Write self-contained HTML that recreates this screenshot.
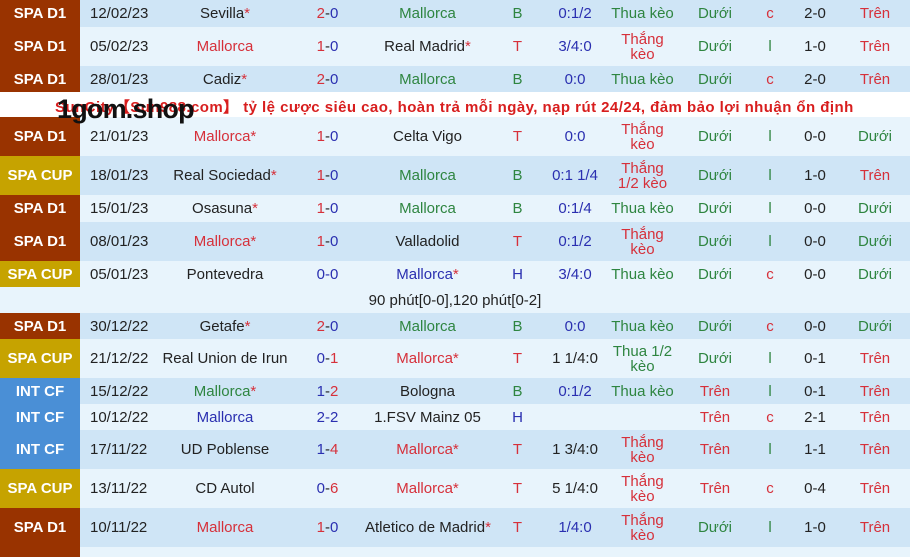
<!DOCTYPE html>
<html><head><meta charset="utf-8"><style>
*{margin:0;padding:0;box-sizing:border-box}
body{width:910px;height:551px;overflow:hidden;background:#e8f4fc;font-family:"Liberation Sans",Arial,sans-serif;font-size:15px;color:#222;position:relative}
.r{position:absolute;left:0;width:910px;display:flex;align-items:center}
.d{background:#cfe5f6}.l{background:#e8f4fc}
.r>div{text-align:center;line-height:15px;flex:none;white-space:nowrap}
.lg{width:80px;height:100%;display:flex;align-items:center;justify-content:center;color:#fff;font-weight:bold;font-size:15px}
.b1{background:#993300}.b2{background:#c6a300}.b3{background:#4a8fd6}
.c1{width:80px;text-align:left!important;padding-left:10px}
.c2{width:130px}.c3{width:75px}.c4{width:125px}.c5{width:55px}.c6{width:60px}.c7{width:75px}.c8{width:70px}.c9{width:40px}.c10{width:50px}.c11{width:70px}
.g{color:#2e8540}.rd{color:#d6303a}.bl{color:#2a2fb0}.k{color:#222}
.s{color:#d6303a}
#ban{position:absolute;left:0;top:92px;width:910px;height:25px;background:#fff}
#ban span{position:absolute;left:55px;top:4px;color:#d81e1e;font-weight:bold;font-size:15px;font-family:"Liberation Sans",sans-serif;white-space:nowrap;letter-spacing:0.45px}
#gom{position:absolute;z-index:5;left:57px;top:94px;font-weight:bold;font-size:27px;color:#111;font-family:"Liberation Sans",sans-serif;letter-spacing:-0.8px}
</style></head><body>

<div class="r d" style="top:0;height:27px"><div class="lg b1">SPA D1</div><div class="c1">12/02/23</div><div class="c2">Sevilla<span class="s">*</span></div><div class="c3"><span class="rd">2</span>-<span class="bl">0</span></div><div class="c4 g">Mallorca</div><div class="c5 g">B</div><div class="c6 bl">0:1/2</div><div class="c7 g">Thua kèo</div><div class="c8 g">Dưới</div><div class="c9 rd">c</div><div class="c10">2-0</div><div class="c11 rd">Trên</div></div>

<div class="r l" style="top:27px;height:39px"><div class="lg b1">SPA D1</div><div class="c1">05/02/23</div><div class="c2 rd">Mallorca</div><div class="c3"><span class="rd">1</span>-<span class="bl">0</span></div><div class="c4">Real Madrid<span class="s">*</span></div><div class="c5 rd">T</div><div class="c6 bl">3/4:0</div><div class="c7 rd">Thắng<br>kèo</div><div class="c8 g">Dưới</div><div class="c9 g">l</div><div class="c10">1-0</div><div class="c11 rd">Trên</div></div>

<div class="r d" style="top:66px;height:27px"><div class="lg b1">SPA D1</div><div class="c1">28/01/23</div><div class="c2">Cadiz<span class="s">*</span></div><div class="c3"><span class="rd">2</span>-<span class="bl">0</span></div><div class="c4 g">Mallorca</div><div class="c5 g">B</div><div class="c6 bl">0:0</div><div class="c7 g">Thua kèo</div><div class="c8 g">Dưới</div><div class="c9 rd">c</div><div class="c10">2-0</div><div class="c11 rd">Trên</div></div>

<div id="ban"><span>SunCity【Sun988.com】 tỷ lệ cược siêu cao, hoàn trả mỗi ngày, nạp rút 24/24, đảm bảo lợi nhuận ổn định</span></div>
<div id="gom">1gom.shop</div>

<div class="r l" style="top:117px;height:39px"><div class="lg b1">SPA D1</div><div class="c1">21/01/23</div><div class="c2 rd">Mallorca*</div><div class="c3"><span class="rd">1</span>-<span class="bl">0</span></div><div class="c4">Celta Vigo</div><div class="c5 rd">T</div><div class="c6 bl">0:0</div><div class="c7 rd">Thắng<br>kèo</div><div class="c8 g">Dưới</div><div class="c9 g">l</div><div class="c10">0-0</div><div class="c11 g">Dưới</div></div>

<div class="r d" style="top:156px;height:39px"><div class="lg b2">SPA CUP</div><div class="c1">18/01/23</div><div class="c2">Real Sociedad<span class="s">*</span></div><div class="c3"><span class="rd">1</span>-<span class="bl">0</span></div><div class="c4 g">Mallorca</div><div class="c5 g">B</div><div class="c6 bl">0:1 1/4</div><div class="c7 rd">Thắng<br>1/2 kèo</div><div class="c8 g">Dưới</div><div class="c9 g">l</div><div class="c10">1-0</div><div class="c11 rd">Trên</div></div>

<div class="r l" style="top:195px;height:27px"><div class="lg b1">SPA D1</div><div class="c1">15/01/23</div><div class="c2">Osasuna<span class="s">*</span></div><div class="c3"><span class="rd">1</span>-<span class="bl">0</span></div><div class="c4 g">Mallorca</div><div class="c5 g">B</div><div class="c6 bl">0:1/4</div><div class="c7 g">Thua kèo</div><div class="c8 g">Dưới</div><div class="c9 g">l</div><div class="c10">0-0</div><div class="c11 g">Dưới</div></div>

<div class="r d" style="top:222px;height:39px"><div class="lg b1">SPA D1</div><div class="c1">08/01/23</div><div class="c2 rd">Mallorca*</div><div class="c3"><span class="rd">1</span>-<span class="bl">0</span></div><div class="c4">Valladolid</div><div class="c5 rd">T</div><div class="c6 bl">0:1/2</div><div class="c7 rd">Thắng<br>kèo</div><div class="c8 g">Dưới</div><div class="c9 g">l</div><div class="c10">0-0</div><div class="c11 g">Dưới</div></div>

<div class="r l" style="top:261px;height:26px"><div class="lg b2">SPA CUP</div><div class="c1">05/01/23</div><div class="c2">Pontevedra</div><div class="c3 bl">0-0</div><div class="c4 bl">Mallorca<span class="s">*</span></div><div class="c5 bl">H</div><div class="c6 bl">3/4:0</div><div class="c7 g">Thua kèo</div><div class="c8 g">Dưới</div><div class="c9 rd">c</div><div class="c10">0-0</div><div class="c11 g">Dưới</div></div>

<div class="r l" style="top:287px;height:26px;justify-content:center"><div style="width:910px;padding-left:0">90 phút[0-0],120 phút[0-2]</div></div>

<div class="r d" style="top:313px;height:26px"><div class="lg b1">SPA D1</div><div class="c1">30/12/22</div><div class="c2">Getafe<span class="s">*</span></div><div class="c3"><span class="rd">2</span>-<span class="bl">0</span></div><div class="c4 g">Mallorca</div><div class="c5 g">B</div><div class="c6 bl">0:0</div><div class="c7 g">Thua kèo</div><div class="c8 g">Dưới</div><div class="c9 rd">c</div><div class="c10">0-0</div><div class="c11 g">Dưới</div></div>

<div class="r l" style="top:339px;height:39px"><div class="lg b2">SPA CUP</div><div class="c1">21/12/22</div><div class="c2">Real Union de Irun</div><div class="c3"><span class="bl">0</span>-<span class="rd">1</span></div><div class="c4 rd">Mallorca*</div><div class="c5 rd">T</div><div class="c6 k">1 1/4:0</div><div class="c7 g">Thua 1/2<br>kèo</div><div class="c8 g">Dưới</div><div class="c9 g">l</div><div class="c10">0-1</div><div class="c11 rd">Trên</div></div>

<div class="r d" style="top:378px;height:26px"><div class="lg b3">INT CF</div><div class="c1">15/12/22</div><div class="c2 g">Mallorca<span class="s">*</span></div><div class="c3"><span class="bl">1</span>-<span class="rd">2</span></div><div class="c4">Bologna</div><div class="c5 g">B</div><div class="c6 bl">0:1/2</div><div class="c7 g">Thua kèo</div><div class="c8 rd">Trên</div><div class="c9 g">l</div><div class="c10">0-1</div><div class="c11 rd">Trên</div></div>

<div class="r l" style="top:404px;height:26px"><div class="lg b3">INT CF</div><div class="c1">10/12/22</div><div class="c2 bl">Mallorca</div><div class="c3 bl">2-2</div><div class="c4">1.FSV Mainz 05</div><div class="c5 bl">H</div><div class="c6"></div><div class="c7"></div><div class="c8 rd">Trên</div><div class="c9 rd">c</div><div class="c10">2-1</div><div class="c11 rd">Trên</div></div>

<div class="r d" style="top:430px;height:39px"><div class="lg b3">INT CF</div><div class="c1">17/11/22</div><div class="c2">UD Poblense</div><div class="c3"><span class="bl">1</span>-<span class="rd">4</span></div><div class="c4 rd">Mallorca*</div><div class="c5 rd">T</div><div class="c6 k">1 3/4:0</div><div class="c7 rd">Thắng<br>kèo</div><div class="c8 rd">Trên</div><div class="c9 g">l</div><div class="c10">1-1</div><div class="c11 rd">Trên</div></div>

<div class="r l" style="top:469px;height:39px"><div class="lg b2">SPA CUP</div><div class="c1">13/11/22</div><div class="c2">CD Autol</div><div class="c3"><span class="bl">0</span>-<span class="rd">6</span></div><div class="c4 rd">Mallorca*</div><div class="c5 rd">T</div><div class="c6 k">5 1/4:0</div><div class="c7 rd">Thắng<br>kèo</div><div class="c8 rd">Trên</div><div class="c9 rd">c</div><div class="c10">0-4</div><div class="c11 rd">Trên</div></div>

<div class="r d" style="top:508px;height:39px"><div class="lg b1">SPA D1</div><div class="c1">10/11/22</div><div class="c2 rd">Mallorca</div><div class="c3"><span class="rd">1</span>-<span class="bl">0</span></div><div class="c4">Atletico de Madrid<span class="s">*</span></div><div class="c5 rd">T</div><div class="c6 bl">1/4:0</div><div class="c7 rd">Thắng<br>kèo</div><div class="c8 g">Dưới</div><div class="c9 g">l</div><div class="c10">1-0</div><div class="c11 rd">Trên</div></div>

<div class="r l" style="top:547px;height:10px"><div class="lg b1"></div></div>
</body></html>
